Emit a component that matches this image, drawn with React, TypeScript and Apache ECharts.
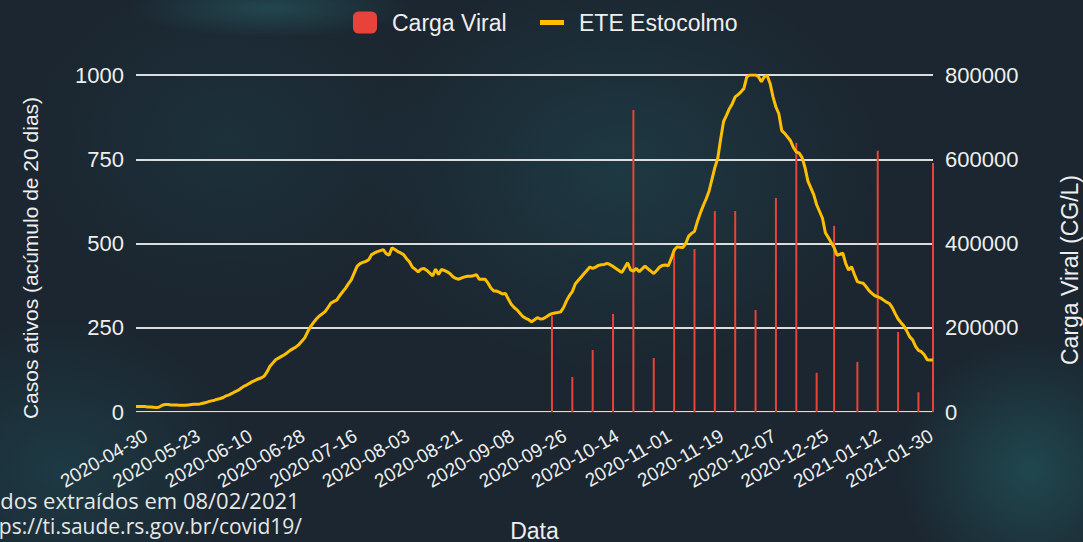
import React, { useEffect, useRef } from "react";
import * as echarts from "echarts";

// Category dates: first day, then a continuous daily run (data has a gap in early May)
const firstDate = "2020-04-30";
const runStart = "2020-05-06";
const runEnd = "2021-02-03";

function buildDates(): string[] {
  const out = [firstDate];
  const d = new Date(runStart + "T00:00:00Z");
  const end = new Date(runEnd + "T00:00:00Z");
  while (d.getTime() <= end.getTime()) {
    out.push(d.toISOString().slice(0, 10));
    d.setUTCDate(d.getUTCDate() + 1);
  }
  return out;
}
const dates = buildDates();

// ETE Estocolmo (left axis, casos ativos) — daily values
const lineValues = [
  16, 16, 16, 16, 15, 15, 14, 13, 15, 20, 22, 22, 21, 21, 21, 20, 20, 20, 21, 22,
  23, 23, 24, 26, 28, 31, 33, 35, 38, 40, 43, 48, 51,
  55, 60, 64, 70, 76, 80, 85, 90, 94, 98, 101, 106, 118, 135, 145, 155, 160, 165,
  170, 176, 183, 188, 193, 200, 210, 220, 238, 253, 265, 276, 285, 291, 298, 310, 323, 328,
  332, 345, 356, 367, 380, 392, 412, 432, 440, 444, 447, 452, 467, 472, 476, 479, 482, 470,
  465, 487, 482, 476, 472, 467, 455, 446, 430, 423,
  416, 424, 426, 420, 412, 404, 424, 408, 423, 420, 416, 410, 401, 396, 394, 398, 401, 403,
  403, 404, 408, 394, 394, 394, 383, 368, 359, 359, 355, 350, 352, 335, 320, 310, 303, 293,
  283, 278, 274, 268, 274, 280, 276, 277, 282, 288, 292, 294, 295, 297, 310, 330, 345, 357,
  380, 390, 400, 410, 420, 430, 426, 430, 435, 437,
  438, 441, 437, 432, 426, 420, 414, 428, 443, 422, 418, 426, 416, 425, 433, 425, 418, 411,
  420, 430, 435, 436, 434, 455, 480, 490, 489, 488, 500, 522, 530, 536, 565, 590, 612, 632,
  655, 690, 725, 753, 810, 862, 880, 900, 915, 935, 942, 950, 960, 995, 1000, 1000, 1000, 995,
  980, 995, 998, 975, 935, 905, 885, 835, 827, 816,
  805, 785, 772, 768, 755, 725, 685, 665, 645, 615, 595, 575, 532, 518, 503, 488, 465, 468,
  471, 440, 421, 431, 408, 387, 384, 382, 372, 360, 352, 345, 342, 338, 332, 326, 322, 310,
  292, 276, 265, 255, 240, 223, 214, 195, 183, 179, 170, 155, 154, 154,
];

// Carga Viral (right axis, CG/L)
const barDates = [
  "2020-09-25", "2020-10-02", "2020-10-09", "2020-10-16", "2020-10-23",
  "2020-10-30", "2020-11-06", "2020-11-13", "2020-11-20", "2020-11-27",
  "2020-12-04", "2020-12-11", "2020-12-18", "2020-12-25", "2020-12-31",
  "2021-01-08", "2021-01-15", "2021-01-22", "2021-01-29", "2021-02-03",
];
const barValues = [
  228000, 83000, 147000, 233000, 717000,
  128000, 377000, 387000, 477000, 477000,
  242000, 508000, 639000, 93000, 442000,
  119000, 620000, 190000, 47000, 591000,
];

const leftTicks = { min: 0, max: 1000, interval: 250 };
const rightTicks = { min: 0, max: 800000, interval: 200000 };

const axisFont = "'Liberation Sans', Arial, sans-serif";
const noteFont = "'Open Sans', 'Noto Sans', sans-serif";
const textColor = "#eeeeee";

export default function App() {
  const ref = useRef<HTMLDivElement>(null);
  useEffect(() => {
    if (!ref.current) return;
    const chart = echarts.init(ref.current, null, { renderer: "svg" });
    const legendText = { color: textColor, fontSize: 23, fontFamily: axisFont, padding: [0, 0, 0, 10] };
    chart.setOption({
      animation: false,
      backgroundColor: "transparent",
      legend: [
        {
          left: 348,
          top: 6,
          itemWidth: 24,
          itemHeight: 22,
          textStyle: legendText,
          data: [{ name: "Carga Viral", icon: "roundRect" }],
        },
        {
          left: 535,
          top: 6,
          itemWidth: 24,
          itemHeight: 5,
          textStyle: legendText,
          data: [{ name: "ETE Estocolmo", icon: "rect" }],
        },
      ],
      grid: [
        { left: 136, right: 150, top: 75, bottom: 130, containLabel: false, outerBoundsMode: "none" },
        // label-only grid, same size, offset to place the rotated date labels as in the picture
        { left: 146, right: 140, top: 75, bottom: 130, containLabel: false, outerBoundsMode: "none" },
      ],
      xAxis: [
        {
          type: "category",
          gridIndex: 0,
          data: dates,
          boundaryGap: false,
          name: "Data",
          nameLocation: "middle",
          nameGap: 107,
          nameTextStyle: { color: textColor, fontSize: 23, fontFamily: axisFont },
          axisLine: { show: true, lineStyle: { color: "#3b3530", width: 1 } },
          axisTick: { show: false },
          axisLabel: { show: false, interval: 17 },
          splitLine: { show: false },
        },
        {
          type: "category",
          gridIndex: 1,
          data: dates,
          boundaryGap: false,
          axisLine: { show: false },
          axisTick: { show: false },
          axisLabel: {
            interval: 17,
            rotate: 30,
            color: textColor,
            fontSize: 19,
            fontFamily: axisFont,
            margin: 22,
          },
          splitLine: { show: false },
        },
      ],
      yAxis: [
        {
          type: "value",
          gridIndex: 0,
          ...leftTicks,
          axisLine: { show: false },
          axisTick: { show: false },
          axisLabel: {
            color: textColor,
            fontSize: 22,
            fontFamily: axisFont,
            margin: 12,
            formatter: (v: number) => String(v),
          },
          splitLine: { show: true, lineStyle: { color: "#dcdcdc", width: 2 } },
        },
        {
          type: "value",
          gridIndex: 0,
          ...rightTicks,
          axisLine: { show: false },
          axisTick: { show: false },
          axisLabel: {
            color: textColor,
            fontSize: 22,
            fontFamily: axisFont,
            margin: 12,
            formatter: (v: number) => String(v),
          },
          splitLine: { show: false },
        },
        {
          type: "value",
          gridIndex: 1,
          ...leftTicks,
          show: false,
          splitLine: { show: false },
        },
      ],
      graphic: [
        {
          type: "text",
          x: 30,
          y: 258,
          rotation: Math.PI / 2,
          style: {
            text: "Casos ativos (acúmulo de 20 dias)",
            fill: textColor,
            font: `21px ${axisFont}`,
            textAlign: "center",
            textVerticalAlign: "middle",
          },
        },
        {
          type: "text",
          x: 1070,
          y: 270,
          rotation: Math.PI / 2,
          style: {
            text: "Carga Viral (CG/L)",
            fill: textColor,
            font: `23px ${axisFont}`,
            textAlign: "center",
            textVerticalAlign: "middle",
          },
        },
        {
          type: "text",
          left: -28,
          top: 489,
          style: {
            text: "Dados extraídos em 08/02/2021",
            fill: "#e6e6e6",
            font: `22px ${noteFont}`,
          },
        },
        {
          type: "text",
          left: -29,
          top: 515,
          style: {
            text: "https://ti.saude.rs.gov.br/covid19/",
            fill: "#e6e6e6",
            font: `21px ${noteFont}`,
          },
        },
      ],
      series: [
        {
          name: "Carga Viral",
          type: "bar",
          xAxisIndex: 0,
          yAxisIndex: 1,
          barWidth: 2,
          itemStyle: { color: "#e8433a" },
          data: barDates.map((d, i) => [d, barValues[i]]),
        },
        {
          name: "ETE Estocolmo",
          type: "line",
          xAxisIndex: 0,
          yAxisIndex: 0,
          data: lineValues,
          symbol: "none",
          showSymbol: false,
          lineStyle: { color: "#ffbf00", width: 3 },
          itemStyle: { color: "#ffbf00" },
        },
      ],
    });
    return () => chart.dispose();
  }, []);

  return (
    <div
      style={{
        position: "fixed",
        left: 0,
        top: 0,
        width: 1083,
        height: 542,
        overflow: "hidden",
        background:
          "radial-gradient(ellipse 140px 30px at 270px 8px, rgba(36,78,86,0.8), rgba(36,78,86,0) 100%)," +
          "radial-gradient(ellipse 260px 200px at 620px 170px, rgba(32,72,82,0.55), rgba(32,72,82,0) 100%)," +
          "radial-gradient(ellipse 130px 130px at 1030px 470px, rgba(34,82,88,0.75), rgba(34,82,88,0) 100%)," +
          "radial-gradient(ellipse 180px 150px at 60px 470px, rgba(30,66,76,0.7), rgba(30,66,76,0) 100%)," +
          "radial-gradient(ellipse 200px 160px at 230px 140px, rgba(30,62,72,0.45), rgba(30,62,72,0) 100%)," +
          "#1b2630",
      }}
    >
      <div ref={ref} style={{ width: 1083, height: 542 }} />
    </div>
  );
}
